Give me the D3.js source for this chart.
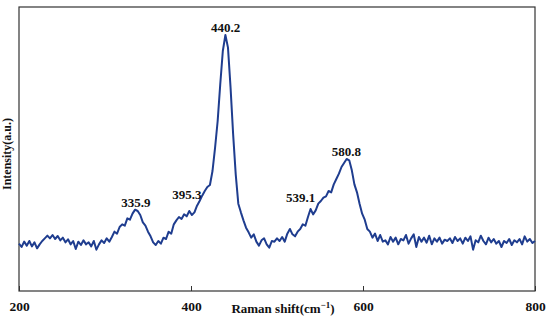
<!DOCTYPE html>
<meta charset="utf-8">
<script src="https://d3js.org/d3.v7.min.js"></script>
<style>
  body { margin: 0; background: #fff; }
  svg text { font-family: "Liberation Serif", "Times New Roman", "DejaVu Serif", serif; font-weight: bold; fill: #111; }
</style>
<svg id="chart" width="550" height="323"></svg>
<script>
  // Raman spectrum (a.u.)
  const shift = [
    200,203,206,209,212,215,218,221,224,227,
    230,233,236,239,242,245,248,251,254,257,
    260,263,266,269,272,275,278,281,284,287,
    290,293,296,299,302,305,308,311,314,317,
    320,323,326,329,332,335,338,341,344,347,
    350,353,356,359,362,365,368,371,374,377,
    380,383,386,389,392,395,398,401,404,407,
    410,413,416,419,422,425,428,431,434,437,
    440,443,446,449,452,455,458,461,464,467,
    470,473,476,479,482,485,488,491,494,497,
    500,503,506,509,512,515,518,521,524,527,
    530,533,536,539,542,545,548,551,554,557,
    560,563,566,569,572,575,578,581,584,587,
    590,593,596,599,602,605,608,611,614,617,
    620,623,626,629,632,635,638,641,644,647,
    650,653,656,659,662,665,668,671,674,677,
    680,683,686,689,692,695,698,701,704,707,
    710,713,716,719,722,725,728,731,734,737,
    740,743,746,749,752,755,758,761,764,767,
    770,773,776,779,782,785,788,791,794,797,
    800]
  const intensity = [
    142,132,148,136,150,134,146,128,140,150,
    158,166,158,168,156,165,152,160,146,155,
    140,150,126,148,138,152,140,146,134,150,
    124,140,152,144,158,148,162,178,172,192,
    200,196,218,214,232,244,240,228,206,196,
    178,164,146,138,150,142,160,156,178,172,
    200,212,222,216,230,224,240,228,236,256,
    270,286,300,312,318,360,430,510,620,720,
    768,730,610,470,350,262,236,212,190,176,
    160,170,148,136,152,158,140,130,150,148,
    158,150,162,148,172,186,170,164,178,186,
    200,196,222,246,230,242,262,270,280,284,
    300,296,320,336,352,372,384,396,392,362,
    320,296,262,232,214,186,178,160,172,150,
    168,148,152,140,162,148,160,140,156,152,
    168,142,158,170,132,162,148,160,145,166,
    140,158,148,160,142,154,150,158,144,162,
    150,158,142,160,150,164,124,152,146,166,
    150,140,160,146,156,142,150,132,150,144,
    156,138,152,146,156,140,164,148,156,144,
    150]
  const peaks = [335.9, 395.3, 440.2, 539.1, 580.8]
  const peakLabelDx = [0, 0, 0, -10, 0]
  const peakLabelY = [207, 199, 32, 202, 156]
  const xTicks = [200, 400, 600, 800]

  const svg = d3.select("#chart")
  const margin = {top: 7, right: 15, bottom: 32, left: 19}
  const width = 550 - margin.left - margin.right
  const height = 323 - margin.top - margin.bottom

  const x = d3.scaleLinear().domain([200, 800]).range([0, width])
  const y = d3.scaleLinear().domain([0, 852]).range([height, 0])

  const g = svg.append("g").attr("transform", "translate(" + margin.left + "," + margin.top + ")")

  // frame
  g.append("rect")
    .attr("width", width).attr("height", height)
    .attr("fill", "none").attr("stroke", "#333").attr("stroke-width", 1.2)

  // x axis, ticks inside
  const xAxis = g.append("g")
    .attr("transform", "translate(0," + height + ")")
    .call(d3.axisBottom(x).tickValues(xTicks).tickSizeInner(-5).tickSizeOuter(0).tickPadding(10).tickFormat(d3.format("d")))
  xAxis.attr("font-family", null).attr("font-size", null)
  xAxis.select(".domain").remove()
  xAxis.selectAll("line").attr("stroke", "#333")
  xAxis.selectAll("text").style("font-size", "13.5px").attr("fill", "#111")

  // spectrum
  const line = d3.line().x((d, i) => x(shift[i])).y(d => y(d))
  g.append("path")
    .datum(intensity)
    .attr("fill", "none")
    .attr("stroke", "#1f3d8f")
    .attr("stroke-width", 2)
    .attr("stroke-linejoin", "round")
    .attr("d", line)

  // peak labels
  g.selectAll(".peak")
    .data(peaks).enter()
    .append("text")
    .attr("class", "peak")
    .attr("x", (d, i) => x(d) + peakLabelDx[i])
    .attr("y", (d, i) => peakLabelY[i] - margin.top)
    .attr("text-anchor", "middle")
    .style("font-size", "13px")
    .text(d => d.toFixed(1))

  // axis titles
  const xt = svg.append("text")
    .attr("x", 283).attr("y", 313)
    .attr("text-anchor", "middle")
    .style("font-size", "13px")
  xt.append("tspan").text("Raman shift(cm")
  xt.append("tspan").attr("dy", -5).style("font-size", "9px").text("\u22121")
  xt.append("tspan").attr("dy", 5).text(")")

  svg.append("text")
    .attr("transform", "translate(11,154) rotate(-90)")
    .attr("text-anchor", "middle")
    .style("font-size", "12px")
    .text("Intensity(a.u.)")
</script>
